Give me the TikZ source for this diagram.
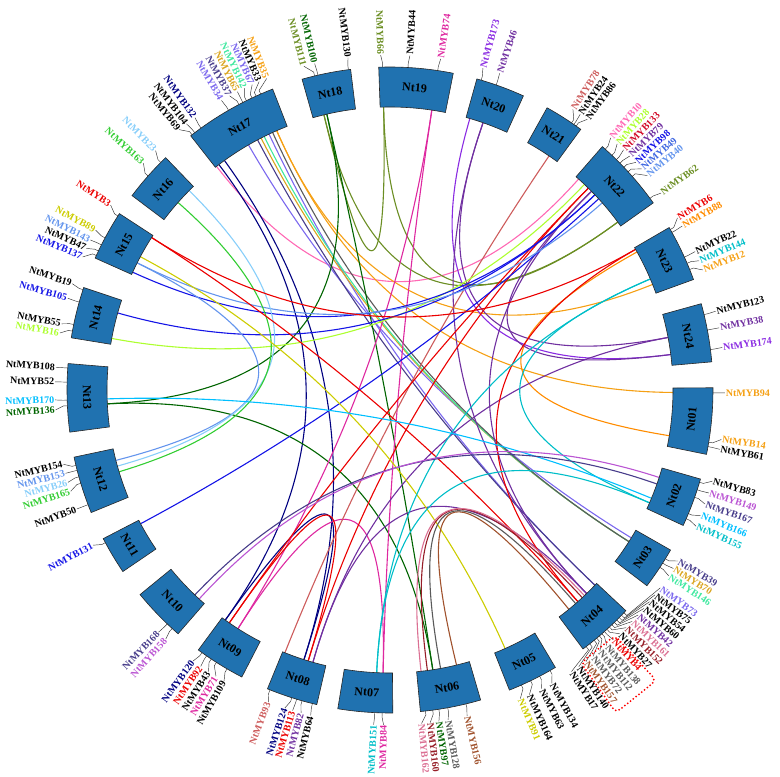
\documentclass[tikz,border=0pt]{standalone}
\usepackage{fontspec}
\setmainfont{Liberation Serif}
\definecolor{chromfill}{RGB}{32,114,176}
\definecolor{cHot}{RGB}{255,105,180}
\definecolor{cNavy}{RGB}{0,0,128}
\definecolor{cMSlate}{RGB}{123,104,238}
\definecolor{cDSlate}{RGB}{72,61,139}
\definecolor{cGold}{RGB}{218,165,32}
\definecolor{cAqua}{RGB}{64,232,160}
\definecolor{cOrange}{RGB}{245,160,20}
\definecolor{cDOrange}{RGB}{255,140,0}
\definecolor{cOlive}{RGB}{107,142,35}
\definecolor{cDGreen}{RGB}{0,100,0}
\definecolor{cMag}{RGB}{222,40,160}
\definecolor{cBViolet}{RGB}{138,43,226}
\definecolor{cPurp}{RGB}{112,48,160}
\definecolor{cIRed}{RGB}{205,92,92}
\definecolor{cGYellow}{RGB}{173,255,47}
\definecolor{cRed}{RGB}{235,0,0}
\definecolor{cCrimson}{RGB}{210,10,40}
\definecolor{cBlue}{RGB}{20,20,230}
\definecolor{cRBlue}{RGB}{65,105,225}
\definecolor{cCFlower}{RGB}{100,149,237}
\definecolor{cLSky}{RGB}{135,206,250}
\definecolor{cLime}{RGB}{50,205,50}
\definecolor{cYel}{RGB}{204,204,0}
\definecolor{cDTurq}{RGB}{0,190,200}
\definecolor{cDSky}{RGB}{0,191,255}
\definecolor{cMOrchid}{RGB}{186,85,211}
\definecolor{cBrown}{RGB}{150,30,40}
\definecolor{cSienna}{RGB}{160,82,45}
\definecolor{cGray}{RGB}{90,90,90}
\definecolor{cPVRed}{RGB}{219,112,147}
\tikzset{
  chrombox/.style={fill=chromfill, draw=black!85, line width=0.6pt},
  chromlabel/.style={font=\bfseries\fontsize{12}{14}\selectfont, text=black, inner sep=0pt},
  genelabel/.style={font=\bfseries\fontsize{10}{12}\selectfont, inner sep=0.3pt},
  leader/.style={draw=black!80, line width=0.45pt},
  lk/.style={line width=1.1pt},
  hilite/.style={draw=red, line width=2pt, dash pattern=on 0pt off 3.6pt, line cap=round, rounded corners=5pt}
}
% chromosome: name, start angle, end angle
\newcommand\chromo[3]{%
  \draw[chrombox] (#2:283pt) arc[start angle=#2, end angle=#3, radius=283pt]
     -- (#3:323pt) arc[start angle=#3, end angle=#2, radius=323pt] -- cycle;
  \pgfmathsetmacro\cmidang{(#2+#3)/2}%
  \pgfmathtruncatemacro\chup{sin(\cmidang)>=0}%
  \ifnum\chup=1 \pgfmathsetmacro\chrot{\cmidang-90}\else\pgfmathsetmacro\chrot{\cmidang+90}\fi
  \node[chromlabel, rotate=\chrot] (#1) at (\cmidang:303pt) {#1};
}
% gene: name, gene angle, label angle, colour
\newcommand\gn[4]{%
  \coordinate (#1) at (#2:283pt);
  \coordinate (#1-c) at (#2:94pt);
  \coordinate (#1-o) at (#2:323pt);
  \draw[leader] (#1-o) -- (#2:327pt) -- (#3:335pt);
  \pgfmathtruncatemacro\gside{cos(#3)>=0}%
  \ifnum\gside=1
    \node[genelabel, text=#4, rotate=#3, anchor=west] (L#1) at (#3:335.5pt) {#1};
  \else
    \node[genelabel, text=#4, rotate=#3+180, anchor=east] (L#1) at (#3:335.5pt) {#1};
  \fi
}
\newcommand\lnk[3]{\draw[lk, draw=#3] (#1) .. controls (#1-c) and (#2-c) .. (#2);}
\begin{document}
\begin{tikzpicture}[x=1pt,y=1pt]
\useasboundingbox (-390pt,-387pt) rectangle (390pt,390pt);
% Nt01
\gn{NtMYB94}{-0.5}{-0.5}{cOrange}
\gn{NtMYB14}{-9.3}{-8.5}{cOrange}
\gn{NtMYB61}{-10.1}{-10.2}{black}
% Nt02
\gn{NtMYB83}{-16.6}{-15.8}{black}
\gn{NtMYB149}{-18}{-17.9}{cMOrchid}
\gn{NtMYB167}{-19.4}{-19.9}{cDSlate}
\gn{NtMYB166}{-22.5}{-22}{cDSky}
\gn{NtMYB155}{-23.5}{-24}{cDTurq}
% Nt03
\gn{NtMYB39}{-31.5}{-30.7}{cDSlate}
\gn{NtMYB70}{-32.4}{-32.2}{cGold}
\gn{NtMYB146}{-33.3}{-33.7}{cAqua}
% Nt04
\gn{NtMYB73}{-43.6}{-36.2}{cMSlate}
\gn{NtMYB75}{-44.2}{-37.7}{black}
\gn{NtMYB54}{-44.8}{-39.2}{black}
\gn{NtMYB60}{-45.4}{-40.7}{black}
\gn{NtMYB42}{-46.0}{-42.2}{cPurp}
\gn{NtMYB161}{-46.6}{-43.7}{cPVRed}
\gn{NtMYB152}{-47.2}{-45.2}{cBrown}
\gn{NtMYB27}{-47.8}{-46.7}{black}
\gn{NtMYB4}{-48.4}{-48.2}{cRed}
\gn{NtMYB138}{-49.0}{-49.7}{cGray}
\gn{NtMYB112}{-49.6}{-51.2}{cGray}
\gn{NtMYB72}{-50.2}{-52.7}{cGray}
\gn{NtMYB157}{-50.8}{-54.2}{cSienna}
\gn{NtMYB140}{-51.8}{-55.7}{black}
\gn{NtMYB17}{-52.6}{-57.2}{black}
% Nt05
\gn{NtMYB134}{-60.3}{-61.1}{black}
\gn{NtMYB63}{-62.4}{-63.1}{black}
\gn{NtMYB164}{-64.2}{-65.4}{black}
\gn{NtMYB91}{-66}{-67.1}{cYel}
% Nt06
\gn{NtMYB156}{-76.4}{-76.7}{cSienna}
\gn{NtMYB128}{-79.7}{-80}{cGray}
\gn{NtMYB97}{-81.3}{-81.6}{cDGreen}
\gn{NtMYB160}{-82.4}{-83.1}{cBrown}
\gn{NtMYB162}{-83.7}{-84.6}{cPVRed}
% Nt07
\gn{NtMYB151}{267.3}{267.2}{cDTurq}
\gn{NtMYB84}{268.6}{268.9}{cMag}
% Nt08
\gn{NtMYB93}{248.2}{248.7}{cIRed}
\gn{NtMYB124}{252.3}{251.7}{cNavy}
\gn{NtMYB113}{253.2}{253.1}{cRed}
\gn{NtMYB82}{254.2}{254.6}{cPurp}
\gn{NtMYB64}{256.1}{256.3}{black}
% Nt09
\gn{NtMYB120}{234.4}{234}{cNavy}
\gn{NtMYB92}{235.4}{235.6}{cRed}
\gn{NtMYB43}{236.4}{237.2}{black}
\gn{NtMYB71}{237.5}{238.7}{cMag}
\gn{NtMYB109}{239.7}{240.3}{black}
% Nt10
\gn{NtMYB168}{226.4}{226.3}{cDSlate}
\gn{NtMYB158}{227.6}{228}{cMOrchid}
% Nt11
\gn{NtMYB131}{208.2}{207.6}{cBlue}
% Nt12
\gn{NtMYB154}{193.5}{192.8}{black}
\gn{NtMYB153}{194.4}{194.4}{cCFlower}
\gn{NtMYB26}{195.6}{196}{cLSky}
\gn{NtMYB165}{196.8}{197.6}{cLime}
\gn{NtMYB50}{200.8}{200.8}{black}
% Nt13
\gn{NtMYB108}{176.1}{176.1}{black}
\gn{NtMYB52}{178.6}{178.6}{black}
\gn{NtMYB170}{181.8}{181.7}{cDSky}
\gn{NtMYB136}{182.8}{183.4}{cDGreen}
% Nt14
\gn{NtMYB19}{161.9}{161.5}{black}
\gn{NtMYB105}{164.2}{164.1}{cBlue}
\gn{NtMYB55}{168.3}{168.6}{black}
\gn{NtMYB16}{169.5}{170.2}{cGYellow}
% Nt15
\gn{NtMYB3}{147.4}{146.5}{cRed}
\gn{NtMYB89}{151.9}{151.5}{cYel}
\gn{NtMYB143}{153.3}{153.4}{cCFlower}
\gn{NtMYB47}{154.5}{155}{black}
\gn{NtMYB137}{155.4}{156.6}{cBlue}
% Nt16
\gn{NtMYB163}{138.5}{137.4}{cLime}
\gn{NtMYB23}{135.2}{134.4}{cLSky}
% Nt17
\gn{NtMYB69}{127.8}{129}{black}
\gn{NtMYB104}{127.2}{127.4}{black}
\gn{NtMYB132}{125.8}{125.6}{cNavy}
\gn{NtMYB34}{120}{120.2}{cMSlate}
\gn{NtMYB37}{117.9}{118.6}{cDSlate}
\gn{NtMYB65}{117.1}{117.1}{cGold}
\gn{NtMYB142}{116.4}{115.7}{cAqua}
\gn{NtMYB67}{115.3}{114.3}{cMSlate}
\gn{NtMYB33}{114.5}{113}{black}
\gn{NtMYB35}{113.6}{111.6}{cOrange}
% Nt18
\gn{NtMYB111}{103.5}{104.9}{cOlive}
\gn{NtMYB100}{102.9}{103}{cDGreen}
\gn{NtMYB130}{97.4}{97.2}{black}
% Nt19
\gn{NtMYB66}{91.3}{91.6}{cOlive}
\gn{NtMYB44}{86.8}{86.6}{black}
\gn{NtMYB74}{81.5}{81.3}{cMag}
% Nt20
\gn{NtMYB173}{73.6}{73.9}{cBViolet}
\gn{NtMYB46}{70.8}{70.9}{cPurp}
% Nt21
\gn{NtMYB78}{55.8}{56.9}{cIRed}
\gn{NtMYB24}{55.3}{55.4}{black}
\gn{NtMYB86}{54.8}{53.9}{black}
% Nt22
\gn{NtMYB10}{48.2}{48.8}{cHot}
\gn{NtMYB28}{46.6}{47.3}{cGYellow}
\gn{NtMYB133}{45.5}{45.8}{cCrimson}
\gn{NtMYB79}{44.6}{44.3}{cPurp}
\gn{NtMYB98}{43.6}{42.8}{cBlue}
\gn{NtMYB49}{42.5}{41.3}{cRBlue}
\gn{NtMYB40}{41.4}{39.8}{cCFlower}
\gn{NtMYB62}{36.4}{36}{cOlive}
% Nt23
\gn{NtMYB6}{29.8}{30.9}{cRed}
\gn{NtMYB88}{29.2}{29.3}{cDOrange}
\gn{NtMYB22}{24.3}{24.4}{black}
\gn{NtMYB144}{23.1}{22.7}{cDTurq}
\gn{NtMYB12}{21.9}{21}{cOrange}
% Nt24
\gn{NtMYB123}{13.5}{13.6}{black}
\gn{NtMYB38}{10.7}{10.7}{cPurp}
\gn{NtMYB174}{7.2}{7.3}{cBViolet}
% links
\lnk{NtMYB10}{NtMYB69}{cHot}
\lnk{NtMYB132}{NtMYB124}{cNavy}
\lnk{NtMYB104}{NtMYB120}{cNavy}
\lnk{NtMYB120}{NtMYB124}{cNavy}
\lnk{NtMYB34}{NtMYB39}{cMSlate}
\lnk{NtMYB67}{NtMYB73}{cMSlate}
\lnk{NtMYB37}{NtMYB73}{cDSlate}
\lnk{NtMYB65}{NtMYB70}{cGold}
\lnk{NtMYB142}{NtMYB70}{cAqua}
\lnk{NtMYB33}{NtMYB70}{cGray}
\lnk{NtMYB35}{NtMYB12}{cOrange}
\lnk{NtMYB35}{NtMYB94}{cOrange}
\lnk{NtMYB88}{NtMYB14}{cDOrange}
\lnk{NtMYB111}{NtMYB66}{cOlive}
\lnk{NtMYB111}{NtMYB62}{cOlive}
\lnk{NtMYB66}{NtMYB62}{cOlive}
\lnk{NtMYB100}{NtMYB97}{cDGreen}
\lnk{NtMYB136}{NtMYB100}{cDGreen}
\lnk{NtMYB136}{NtMYB97}{cDGreen}
\lnk{NtMYB74}{NtMYB71}{cMag}
\lnk{NtMYB74}{NtMYB84}{cMag}
\lnk{NtMYB71}{NtMYB84}{cMag}
\lnk{NtMYB173}{NtMYB174}{cBViolet}
\lnk{NtMYB46}{NtMYB38}{cPurp}
\lnk{NtMYB46}{NtMYB42}{cPurp}
\lnk{NtMYB79}{NtMYB174}{cPurp}
\lnk{NtMYB79}{NtMYB42}{cPurp}
\lnk{NtMYB38}{NtMYB82}{cPurp}
\lnk{NtMYB42}{NtMYB82}{cPurp}
\lnk{NtMYB78}{NtMYB93}{cIRed}
\lnk{NtMYB28}{NtMYB16}{cGYellow}
\lnk{NtMYB133}{NtMYB113}{cRed}
\lnk{NtMYB133}{NtMYB92}{cRed}
\lnk{NtMYB92}{NtMYB113}{cRed}
\lnk{NtMYB98}{NtMYB137}{cBlue}
\lnk{NtMYB98}{NtMYB105}{cBlue}
\lnk{NtMYB49}{NtMYB131}{cBlue}
\lnk{NtMYB40}{NtMYB143}{cCFlower}
\lnk{NtMYB143}{NtMYB153}{cCFlower}
\lnk{NtMYB23}{NtMYB26}{cLSky}
\lnk{NtMYB163}{NtMYB165}{cLime}
\lnk{NtMYB3}{NtMYB6}{cRed}
\lnk{NtMYB3}{NtMYB4}{cRed}
\lnk{NtMYB6}{NtMYB4}{cRed}
\lnk{NtMYB89}{NtMYB91}{cYel}
\lnk{NtMYB144}{NtMYB151}{cDTurq}
\lnk{NtMYB155}{NtMYB151}{cDTurq}
\lnk{NtMYB144}{NtMYB155}{cDTurq}
\lnk{NtMYB170}{NtMYB166}{cDSky}
\lnk{NtMYB168}{NtMYB167}{cDSlate}
\lnk{NtMYB158}{NtMYB149}{cMOrchid}
\lnk{NtMYB152}{NtMYB160}{cBrown}
\lnk{NtMYB157}{NtMYB156}{cSienna}
\lnk{NtMYB138}{NtMYB128}{cGray}
\lnk{NtMYB161}{NtMYB162}{cPVRed}
% chromosomes
\chromo{Nt01}{0.4}{-11.5}
\chromo{Nt02}{-16}{-24.8}
\chromo{Nt03}{-29.7}{-37.3}
\chromo{Nt04}{-43.1}{-53.3}
\chromo{Nt05}{-59.2}{-68.3}
\chromo{Nt06}{-73.7}{-84.6}
\chromo{Nt07}{-89.5}{-99.3}
\chromo{Nt08}{-103.1}{-112.3}
\chromo{Nt09}{-117.3}{-126.4}
\chromo{Nt10}{-131}{-140.7}
\chromo{Nt11}{-145.8}{-152.6}
\chromo{Nt12}{-157.7}{-168}
\chromo{Nt13}{-172.5}{-184.7}
\chromo{Nt14}{170.7}{161.5}
\chromo{Nt15}{155.9}{146.9}
\chromo{Nt16}{143}{134}
\chromo{Nt17}{128.1}{111.3}
\chromo{Nt18}{105.8}{97}
\chromo{Nt19}{92}{78.7}
\chromo{Nt20}{74.4}{65.6}
\chromo{Nt21}{60.9}{53.8}
\chromo{Nt22}{48.9}{35.4}
\chromo{Nt23}{30.2}{20}
\chromo{Nt24}{15.5}{5}
% highlighted group
\draw[hilite] (-47.5:333pt) -- (-47.5:394pt) -- (-55:394pt) -- (-55:333pt) -- cycle;
\end{tikzpicture}
\end{document}
